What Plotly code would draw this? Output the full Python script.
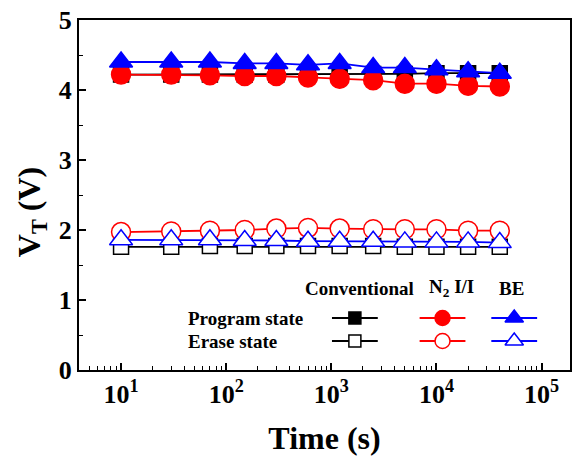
import plotly.graph_objects as go

time_s = [10, 30, 70, 150, 300, 600, 1200, 2500, 5000, 10000, 20000, 40000]

conv_prog = [4.22, 4.22, 4.22, 4.22, 4.22, 4.22, 4.23, 4.23, 4.23, 4.24, 4.24, 4.24]
n2_prog = [4.22, 4.22, 4.21, 4.20, 4.20, 4.18, 4.16, 4.14, 4.09, 4.09, 4.06, 4.05]
be_prog = [4.40, 4.40, 4.40, 4.38, 4.38, 4.36, 4.38, 4.32, 4.32, 4.29, 4.26, 4.24]

conv_erase = [1.76, 1.76, 1.77, 1.77, 1.77, 1.77, 1.77, 1.77, 1.76, 1.76, 1.76, 1.76]
n2_erase = [1.97, 1.98, 1.99, 2.00, 2.02, 2.03, 2.02, 2.01, 2.01, 2.01, 1.99, 1.99]
be_erase = [1.86, 1.86, 1.86, 1.85, 1.85, 1.84, 1.84, 1.84, 1.83, 1.83, 1.83, 1.82]

x_tickvals = [10, 100, 1000, 10000, 100000]
x_ticktext = ["<b>10<sup>1</sup></b>", "<b>10<sup>2</sup></b>", "<b>10<sup>3</sup></b>",
              "<b>10<sup>4</sup></b>", "<b>10<sup>5</sup></b>"]
x_minor = [m * 10 ** e for e in range(0, 6) for m in range(2, 10)]
y_tickvals = [0, 1, 2, 3, 4, 5]
y_ticktext = ["<b>0</b>", "<b>1</b>", "<b>2</b>", "<b>3</b>", "<b>4</b>", "<b>5</b>"]

col_headers = ["Conventional", "N<sub>2</sub> I/I", "BE"]
row_labels = ["Program state", "Erase state"]

FONT = "Liberation Serif"
BLACK, RED, BLUE = "#000000", "#ff0000", "#0000ff"

series = [
    (conv_prog, BLACK, "square", True, 15),
    (n2_prog, RED, "circle", True, 19),
    (be_prog, BLUE, "triangle-up", True, 20),
    (conv_erase, BLACK, "square", False, 15),
    (n2_erase, RED, "circle", False, 19),
    (be_erase, BLUE, "triangle-up", False, 20),
]

fig = go.Figure()
for vals, col, sym, filled, sz in series:
    fig.add_trace(go.Scatter(
        x=time_s, y=vals, mode="lines+markers",
        line=dict(color=col, width=1.8),
        marker=dict(symbol=sym, size=sz, color=col if filled else "white",
                    line=dict(color=col, width=1.5)),
        showlegend=False, xaxis="x", yaxis="y",
    ))

# Custom legend table on an overlay axis (pixel-like coordinates)
leg_x = [356, 444, 516]
leg_y = [318, 341]
leg_cols = [BLACK, RED, BLUE]
leg_syms = ["square", "circle", "triangle-up"]
leg_sizes = [12, 15, 16]
for r, yy in enumerate(leg_y):
    for c, xx in enumerate(leg_x):
        fig.add_trace(go.Scatter(
            x=[xx - 23, xx, xx + 23], y=[yy, yy, yy], mode="lines",
            line=dict(color=leg_cols[c], width=1.8),
            showlegend=False, xaxis="x2", yaxis="y2", hoverinfo="skip"))
        fig.add_trace(go.Scatter(
            x=[xx], y=[yy], mode="markers",
            marker=dict(symbol=leg_syms[c], size=leg_sizes[c],
                        color=leg_cols[c] if r == 0 else "white",
                        line=dict(color=leg_cols[c], width=1.5)),
            showlegend=False, xaxis="x2", yaxis="y2", hoverinfo="skip"))

annotations = []
for c, txt in enumerate(col_headers):
    annotations.append(dict(x=[361, 453, 513][c], y=288, xref="x2", yref="y2",
                            text="<b>%s</b>" % txt, showarrow=False,
                            font=dict(family=FONT, size=19, color="black")))
for r, txt in enumerate(row_labels):
    annotations.append(dict(x=186, y=leg_y[r], xref="x2", yref="y2", xanchor="left",
                            text="<b>%s</b>" % txt, showarrow=False,
                            font=dict(family=FONT, size=19, color="black")))
# y-axis title (placed slightly below centre, as in the reference)
annotations.append(dict(x=(31 - 79) / 493, y=212, xref="paper", yref="y2",
                        xanchor="center", yanchor="middle",
                        text="<b>V<sub>T</sub> (V)</b>", textangle=-90, showarrow=False,
                        font=dict(family=FONT, size=32, color="black")))

fig.update_layout(
    width=574, height=457,
    margin=dict(l=79, r=2, t=20, b=87),
    paper_bgcolor="white", plot_bgcolor="white",
    font=dict(family=FONT, color="black"),
    annotations=annotations,
    xaxis=dict(
        type="log", range=[0.6, 5.27],
        tickvals=x_tickvals, ticktext=x_ticktext,
        ticks="inside", ticklen=7, tickwidth=1.5, tickcolor="black",
        minor=dict(tickvals=x_minor, ticks="inside", ticklen=4, tickwidth=1.2,
                   tickcolor="black", showgrid=False),
        showline=True, linecolor="black", linewidth=2, mirror=True,
        showgrid=False, zeroline=False,
        tickfont=dict(family=FONT, size=26),
        title=dict(text="<b>Time (s)</b>", font=dict(family=FONT, size=32), standoff=18),
    ),
    yaxis=dict(
        range=[0, 5], tickvals=y_tickvals, ticktext=y_ticktext,
        ticks="inside", ticklen=7, tickwidth=1.5, tickcolor="black",
        minor=dict(ticks="inside", ticklen=4, dtick=0.5, tickwidth=1.2, tickcolor="black", showgrid=False),
        showline=True, linecolor="black", linewidth=2, mirror=True,
        showgrid=False, zeroline=False,
        tickfont=dict(family=FONT, size=26),
    ),
    xaxis2=dict(overlaying="x", range=[79, 572], visible=False, domain=[0, 1]),
    yaxis2=dict(overlaying="y", range=[370, 20], visible=False),
)

fig.write_html("out.html")
